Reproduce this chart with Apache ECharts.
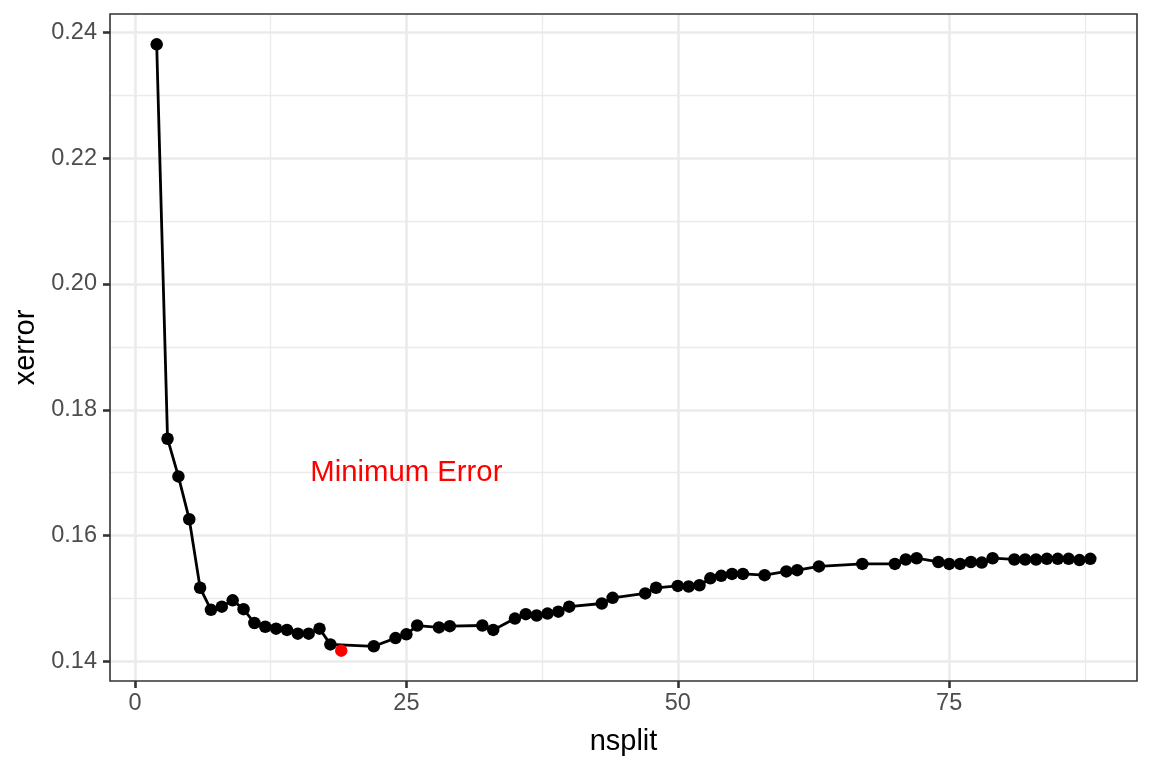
<!DOCTYPE html>
<html>
<head>
<meta charset="utf-8">
<script src="https://cdn.jsdelivr.net/npm/echarts@6/dist/echarts.min.js"></script>
<style>
  html, body { margin: 0; padding: 0; background: #fff; }
  #chart { width: 1152px; height: 768px; }
</style>
</head>
<body>
<div id="chart"></div>
<script>
// 数据（折线）
var nsplit = [2, 3, 4, 5, 6, 7, 8, 9, 10, 11, 12, 13, 14, 15, 16, 17, 18,
  22, 24, 25, 26, 28, 29, 32, 33, 35, 36, 37, 38, 39, 40, 43, 44, 47, 48,
  50, 51, 52, 53, 54, 55, 56, 58, 60, 61, 63, 67, 70, 71, 72, 74, 75, 76,
  77, 78, 79, 81, 82, 83, 84, 85, 86, 87, 88]
var xerror = [0.2381, 0.1754, 0.1694, 0.1626, 0.1517, 0.1482, 0.1487, 0.1497, 0.1483,
  0.1461, 0.1455, 0.1452, 0.1450, 0.1444, 0.1444, 0.1452, 0.1427,
  0.1424, 0.1437, 0.1443, 0.1457, 0.1454, 0.1456, 0.1457, 0.1450,
  0.1468, 0.1475, 0.1473, 0.1476, 0.1479, 0.1487,
  0.1492, 0.1501, 0.1508, 0.1517,
  0.1520, 0.1519, 0.1521, 0.1532, 0.1536, 0.1539, 0.1539, 0.1537,
  0.1543, 0.1545, 0.1551, 0.1555,
  0.1555, 0.1562, 0.1564, 0.1558, 0.1555, 0.1555, 0.1558, 0.1557, 0.1564,
  0.1562, 0.1562, 0.1562, 0.1563, 0.1563, 0.1563, 0.1561, 0.1563]

// 最小误差点（红色）
var minSplit = [19]
var minError = [0.1417]

// 刻度
var xTicks = [0, 25, 50, 75]
var xMinorTicks = [12.5, 37.5, 62.5, 87.5]
var yTicks = [0.14, 0.16, 0.18, 0.20, 0.22, 0.24]
var yMinorTicks = [0.15, 0.17, 0.19, 0.21, 0.23]

// 标注
var noteText = 'Minimum Error'
var notePos = [25, 0.17]

var font = '"Liberation Sans", Arial, sans-serif'

// ggplot 式的 5% 扩展
function expand(arr) {
  var lo = Math.min.apply(null, arr), hi = Math.max.apply(null, arr)
  var pad = (hi - lo) * 0.05
  return [lo - pad, hi + pad]
}
var xr = expand(nsplit.concat(minSplit))
var yr = expand(xerror.concat(minError))

var points = nsplit.map(function (x, i) { return [x, xerror[i]] })
var minPoints = minSplit.map(function (x, i) { return [x, minError[i]] })

var gridLines = []
xMinorTicks.forEach(function (v) { gridLines.push({ xAxis: v, lineStyle: { width: 1.3 } }) })
yMinorTicks.forEach(function (v) { gridLines.push({ yAxis: v, lineStyle: { width: 1.3 } }) })
xTicks.forEach(function (v) { gridLines.push({ xAxis: v, lineStyle: { width: 2.6 } }) })
yTicks.forEach(function (v) { gridLines.push({ yAxis: v, lineStyle: { width: 2.6 } }) })

var chart = echarts.init(document.getElementById('chart'))

chart.setOption({
  animation: false,
  grid: {
    left: 110,
    right: 15,
    top: 14,
    bottom: 87,
    show: true,
    borderColor: '#333333',
    borderWidth: 1.6,
    backgroundColor: 'transparent',
    z: 3
  },
  xAxis: {
    type: 'value',
    min: xr[0],
    max: xr[1],
    name: 'nsplit',
    nameLocation: 'middle',
    nameGap: 46,
    nameTextStyle: { color: '#000', fontSize: 29, fontFamily: font },
    axisLine: { show: false, onZero: false },
    splitLine: { show: false },
    axisTick: {
      show: true,
      customValues: xTicks,
      length: 7,
      lineStyle: { color: '#333333', width: 2.6 }
    },
    axisLabel: {
      customValues: xTicks,
      margin: 11,
      color: '#4d4d4d',
      fontSize: 23.5,
      fontFamily: font
    }
  },
  yAxis: {
    type: 'value',
    min: yr[0],
    max: yr[1],
    name: 'xerror',
    nameLocation: 'middle',
    nameGap: 68,
    nameRotate: 90,
    nameTextStyle: { color: '#000', fontSize: 29, fontFamily: font },
    axisLine: { show: false, onZero: false },
    splitLine: { show: false },
    axisTick: {
      show: true,
      customValues: yTicks,
      length: 7,
      lineStyle: { color: '#333333', width: 2.6 }
    },
    axisLabel: {
      customValues: yTicks,
      margin: 13,
      color: '#4d4d4d',
      fontSize: 23.5,
      fontFamily: font,
      formatter: function (v) { return v.toFixed(2) }
    }
  },
  series: [
    {
      // 网格线
      type: 'line',
      data: [],
      silent: true,
      z: 1,
      markLine: {
        z: 1,
        silent: true,
        symbol: 'none',
        label: { show: false },
        animation: false,
        lineStyle: { color: '#ebebeb', type: 'solid' },
        data: gridLines
      }
    },
    {
      type: 'line',
      data: points,
      z: 6,
      symbol: 'circle',
      symbolSize: 12.5,
      showAllSymbol: true,
      lineStyle: { color: '#000', width: 2.8 },
      itemStyle: { color: '#000' }
    },
    {
      type: 'scatter',
      data: minPoints,
      z: 7,
      symbolSize: 12.5,
      itemStyle: { color: '#ff0000', opacity: 1 }
    },
    {
      type: 'scatter',
      data: [notePos],
      z: 7,
      symbolSize: 0,
      silent: true,
      itemStyle: { opacity: 1 },
      label: {
        show: true,
        position: 'inside',
        formatter: noteText,
        color: '#ff0000',
        fontSize: 29.3,
        fontFamily: font
      }
    }
  ]
})
</script>
</body>
</html>
